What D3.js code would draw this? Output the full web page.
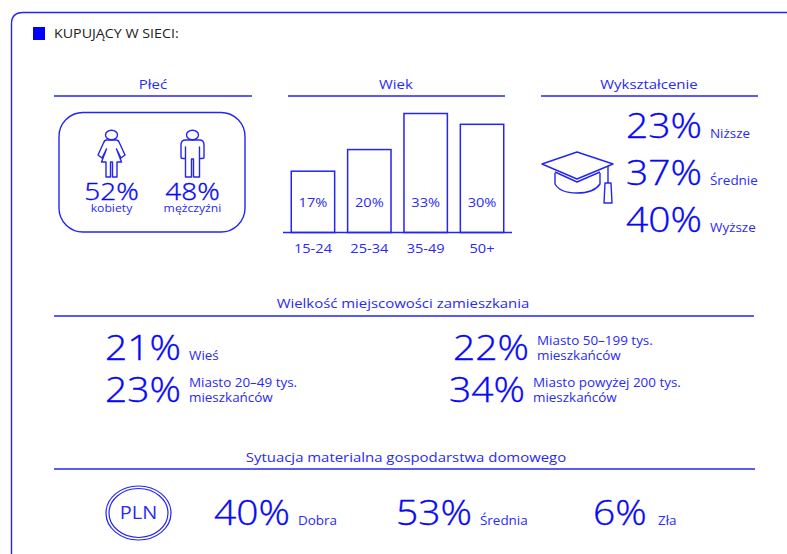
<!DOCTYPE html>
<html>
<head>
<meta charset="utf-8">
<script src="https://cdn.jsdelivr.net/npm/d3@7"></script>
<style>
    html, body { margin: 0; padding: 0; background: #fff; }
    svg { display: block; }
    /* the reference lettering is wider than the font, so stretch it a bit */
    text { font-family: "Open Sans", sans-serif; fill: #2a2af5; font-weight: 500;
        transform-box: fill-box; transform-origin: left center; transform: scaleX(1.14); }
    text[text-anchor="middle"], .tick text { transform-origin: center; }
    .big { fill: #0808f5; font-weight: 300; font-size: 34.2px; stroke: #0808f5; stroke-width: .35px; }
    .lab { font-size: 11.8px; }
    .head { font-size: 13.1px; }
</style>
</head>
<body>
<script>
var blue = '#2424f5'

var title = 'KUPUJĄCY W SIECI:'

var ageCategories = ['15-24', '25-34', '35-49', '50+']
// bar heights as drawn in the picture, the 25-34 bar is taller than its label says
var ageBars = [17, 23, 33, 30]
var ageLabels = ['17%', '20%', '33%', '30%']

var genderValues = ['52%', '48%']
var genderLabels = ['kobiety', 'mężczyźni']

var eduValues = ['23%', '37%', '40%']
var eduLabels = ['Niższe', 'Średnie', 'Wyższe']

var townValues = ['21%', '22%', '23%', '34%']
var townLabels = [['Wieś'], ['Miasto 50–199 tys.', 'mieszkańców'], ['Miasto 20–49 tys.', 'mieszkańców'], ['Miasto powyżej 200 tys.', 'mieszkańców']]

var wealthValues = ['40%', '53%', '6%']
var wealthLabels = ['Dobra', 'Średnia', 'Zła']

var svg = d3.select('body').append('svg').attr('width', 787).attr('height', 554)

var line = (x1, x2, y, w) => {
    svg.append('line').attr('x1', x1).attr('x2', x2).attr('y1', y).attr('y2', y)
        .attr('stroke', blue).attr('stroke-width', w || 1.3)
}

var outline = (g, d) => g.append('path').attr('d', d).attr('fill', 'none')
    .attr('stroke', blue).attr('stroke-width', 1.4).attr('stroke-linejoin', 'round')

// frame
outline(svg, 'M11.5,554 V24 Q11.5,12.5 23,12.5 H787')

svg.append('rect').attr('x', 33).attr('y', 27).attr('width', 12).attr('height', 13).attr('fill', '#0000ff')
svg.append('text').attr('x', 54).attr('y', 38).attr('font-size', 12.5).style('fill', '#222').style('font-weight', 400).text(title)

// section headings
var heads = [['Płeć', 153, 89, 54, 252, 96], ['Wiek', 396, 89, 288, 505, 96], ['Wykształcenie', 649, 89, 541, 758, 96],
    ['Wielkość miejscowości zamieszkania', 403, 308.5, 54, 754, 316], ['Sytuacja materialna gospodarstwa domowego', 406, 462, 54, 755, 469]]
heads.forEach(h => {
    svg.append('text').attr('class', 'head').attr('text-anchor', 'middle').attr('x', h[1]).attr('y', h[2]).text(h[0])
    line(h[3], h[4], h[5])
})

// gender box
svg.append('rect').attr('x', 59).attr('y', 112.5).attr('width', 186).attr('height', 119.5).attr('rx', 24)
    .attr('fill', 'none').attr('stroke', blue).attr('stroke-width', 1.4)

var woman = svg.append('g').attr('transform', 'translate(111.5,130)')
woman.append('ellipse').attr('cx', 0).attr('cy', 5).attr('rx', 6).attr('ry', 4.8).attr('fill', 'none').attr('stroke', blue).attr('stroke-width', 1.4)
outline(woman, 'M-5,10 H5 Q7,10 8,13 L13.5,25 L9.5,28 L5,19 L10,32 H5.5 V47 H1 V32 H-1 V47 H-5.5 V32 H-10 L-5,19 L-9.5,28 L-13.5,25 L-8,13 Q-7,10 -5,10 Z')

var man = svg.append('g').attr('transform', 'translate(192.5,130)')
man.append('ellipse').attr('cx', 0).attr('cy', 5).attr('rx', 6).attr('ry', 4.8).attr('fill', 'none').attr('stroke', blue).attr('stroke-width', 1.4)
outline(man, 'M-7,10 H7 Q11.5,10 11.5,15 V27 Q11.5,28.5 9.5,28.5 H7 V17 V47 H1 V29 H-1 V47 H-7 V17 V28.5 H-9.5 Q-11.5,28.5 -11.5,27 V15 Q-11.5,10 -7,10 Z')

var genderX = [111.5, 192.5]
svg.selectAll('.gval').data(genderValues).join('text').attr('class', 'big gval').attr('text-anchor', 'middle')
    .attr('x', (d, i) => genderX[i]).attr('y', 200.5).style('font-size', '24.5px').text(d => d)
svg.selectAll('.glab').data(genderLabels).join('text').attr('text-anchor', 'middle').attr('font-size', 10.7)
    .attr('x', (d, i) => genderX[i]).attr('y', 212).text(d => d)

// age bars
var x = d3.scaleBand().domain(ageCategories).range([284.5, 510.5]).paddingInner(0.23).paddingOuter(0.12)
var y = d3.scaleLinear().domain([0, 33]).range([232.5, 113.5])

svg.selectAll('.bar').data(ageBars).join('rect').attr('class', 'bar')
    .attr('x', (d, i) => x(ageCategories[i])).attr('y', d => y(d))
    .attr('width', x.bandwidth()).attr('height', d => y(0) - y(d))
    .attr('fill', '#fff').attr('stroke', blue).attr('stroke-width', 1.5)
svg.selectAll('.blab').data(ageLabels).join('text').attr('class', 'blab').attr('text-anchor', 'middle').attr('font-size', 12.8)
    .attr('x', (d, i) => x(ageCategories[i]) + x.bandwidth() / 2).attr('y', 207.5).text(d => d)

var axis = svg.append('g').attr('transform', 'translate(0,233)')
    .call(d3.axisBottom(x).tickSize(0).tickPadding(11))
axis.select('.domain').remove()
axis.selectAll('text').attr('font-size', 12.8).style('font-family', '"Open Sans", sans-serif')
line(283, 512, 232.5, 1.5)

// graduation cap
var cap = svg.append('g')
outline(cap, 'M542,164 L577,152 L613,164 L577,179 Z')
outline(cap, 'M555,173 L555,184 Q560,193 577,193 Q594,193 600,184 L600,173')
outline(cap, 'M555,172 L577,182 L600,172')
outline(cap, 'M608,166 V183 M605,183 H611 L612,203 H604 Z')

// education
var eduY = [138, 185.5, 232.5]
svg.selectAll('.eval').data(eduValues).join('text').attr('class', 'big eval')
    .attr('x', 626).attr('y', (d, i) => eduY[i]).text(d => d)
svg.selectAll('.elab').data(eduLabels).join('text').attr('class', 'lab elab')
    .attr('x', 710).attr('y', (d, i) => eduY[i]).text(d => d)

// town size
var townPos = [[105, 360.5, 189], [453, 360.5, 537], [105, 402.5, 189], [449, 402.5, 533]]
svg.selectAll('.tval').data(townValues).join('text').attr('class', 'big tval')
    .attr('x', (d, i) => townPos[i][0]).attr('y', (d, i) => townPos[i][1]).text(d => d)
townLabels.forEach((l, i) => {
    l.forEach((s, j) => {
        svg.append('text').attr('class', 'lab').attr('x', townPos[i][2])
            .attr('y', townPos[i][1] - (l.length - 1 - j) * 15).text(s)
    })
})

// wealth
svg.append('ellipse').attr('cx', 138.5).attr('cy', 513).attr('rx', 32.5).attr('ry', 27).attr('fill', 'none').attr('stroke', blue).attr('stroke-width', 1.2)
svg.append('ellipse').attr('cx', 138.5).attr('cy', 513).attr('rx', 29.5).attr('ry', 24.5).attr('fill', 'none').attr('stroke', blue).attr('stroke-width', 1.2)
svg.append('text').attr('x', 138.5).attr('y', 519).attr('text-anchor', 'middle').attr('font-size', 17.5).style('font-weight', 400).text('PLN')

var wealthPos = [[214, 298], [396, 480], [593, 658]]
svg.selectAll('.wval').data(wealthValues).join('text').attr('class', 'big wval')
    .attr('x', (d, i) => wealthPos[i][0]).attr('y', 525).text(d => d)
svg.selectAll('.wlab').data(wealthLabels).join('text').attr('class', 'lab wlab')
    .attr('x', (d, i) => wealthPos[i][1]).attr('y', 525).text(d => d)
</script>
</body>
</html>
